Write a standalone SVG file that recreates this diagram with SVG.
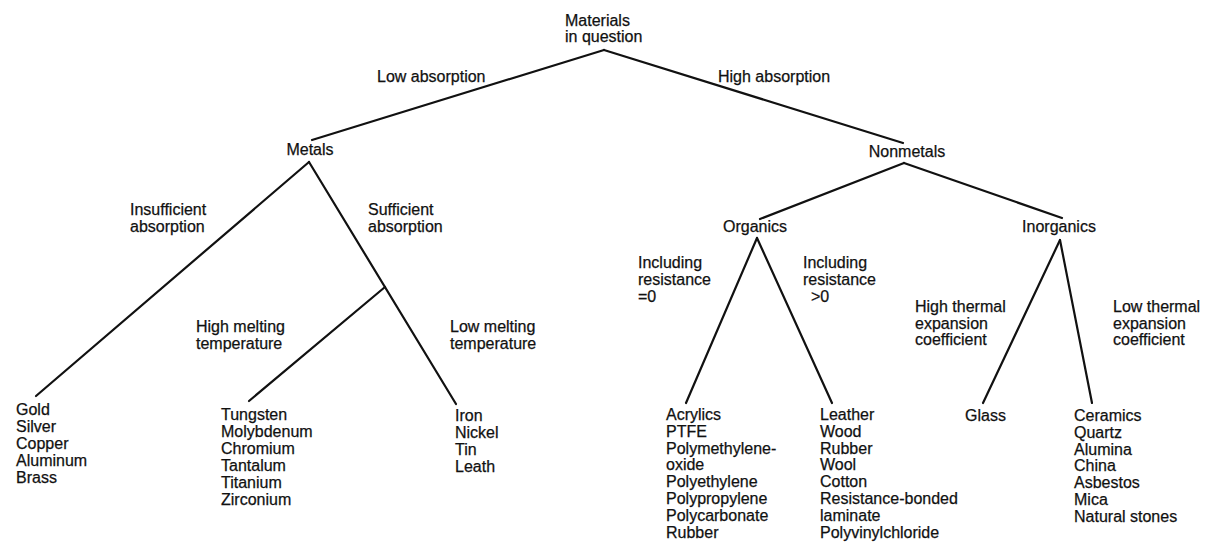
<svg xmlns="http://www.w3.org/2000/svg" width="1211" height="542" viewBox="0 0 1211 542">
<style>
text{font-family:"Liberation Sans",Arial,sans-serif;font-size:16px;fill:#111;stroke:#111;stroke-width:0.25}
.c{text-anchor:middle}
.edge line{stroke:#111;stroke-width:2.2;stroke-linecap:round}
</style>
<rect width="1211" height="542" fill="#fff"/>
<g id="connectors" class="edge">
<line x1="604" y1="50" x2="312" y2="140"/>
<line x1="604" y1="50" x2="903" y2="143"/>
<line x1="309" y1="162" x2="36" y2="396"/>
<line x1="309" y1="162" x2="456" y2="404"/>
<line x1="385" y1="287" x2="249" y2="401"/>
<line x1="904" y1="163" x2="760" y2="219"/>
<line x1="904" y1="163" x2="1062" y2="218"/>
<line x1="757" y1="238" x2="686" y2="403"/>
<line x1="757" y1="238" x2="832" y2="403"/>
<line x1="1060" y1="240" x2="983" y2="403"/>
<line x1="1060" y1="240" x2="1092" y2="403"/>
</g>
<g id="edge-labels">
<text x="377" y="82">Low absorption</text>
<text x="718" y="82">High absorption</text>
<text x="130" y="215">Insufficient<tspan x="130" dy="17">absorption</tspan></text>
<text x="368" y="215">Sufficient<tspan x="368" dy="17">absorption</tspan></text>
<text x="196" y="332">High melting<tspan x="196" dy="17">temperature</tspan></text>
<text x="450" y="332">Low melting<tspan x="450" dy="17">temperature</tspan></text>
<text x="638" y="268">Including<tspan x="638" dy="17">resistance</tspan><tspan x="638" dy="17">=0</tspan></text>
<text x="803" y="268">Including<tspan x="803" dy="17">resistance</tspan><tspan x="811" dy="17">&gt;0</tspan></text>
<text x="915" y="312">High thermal<tspan x="915" dy="16.7">expansion</tspan><tspan x="915" dy="16.7">coefficient</tspan></text>
<text x="1113" y="312">Low thermal<tspan x="1113" dy="16.7">expansion</tspan><tspan x="1113" dy="16.7">coefficient</tspan></text>
</g>
<g id="node-root"><text x="565" y="26">Materials<tspan x="565" dy="16">in question</tspan></text></g>
<g id="node-metals"><text class="c" x="310" y="155">Metals</text></g>
<g id="node-nonmetals"><text class="c" x="907" y="157">Nonmetals</text></g>
<g id="node-organics"><text class="c" x="755" y="232">Organics</text></g>
<g id="node-inorganics"><text class="c" x="1059" y="232">Inorganics</text></g>
<g id="node-gold"><text x="16" y="415">Gold<tspan x="16" dy="17">Silver</tspan><tspan x="16" dy="17">Copper</tspan><tspan x="16" dy="17">Aluminum</tspan><tspan x="16" dy="17">Brass</tspan></text></g>
<g id="node-tungsten"><text x="221" y="420">Tungsten<tspan x="221" dy="17">Molybdenum</tspan><tspan x="221" dy="17">Chromium</tspan><tspan x="221" dy="17">Tantalum</tspan><tspan x="221" dy="17">Titanium</tspan><tspan x="221" dy="17">Zirconium</tspan></text></g>
<g id="node-iron"><text x="455" y="421">Iron<tspan x="455" dy="17">Nickel</tspan><tspan x="455" dy="17">Tin</tspan><tspan x="455" dy="17">Leath</tspan></text></g>
<g id="node-acrylics"><text x="666" y="420">Acrylics<tspan x="666" dy="16.8">PTFE</tspan><tspan x="666" dy="16.8">Polymethylene-</tspan><tspan x="666" dy="16.8">oxide</tspan><tspan x="666" dy="16.8">Polyethylene</tspan><tspan x="666" dy="16.8">Polypropylene</tspan><tspan x="666" dy="16.8">Polycarbonate</tspan><tspan x="666" dy="16.8">Rubber</tspan></text></g>
<g id="node-leather"><text x="820" y="420">Leather<tspan x="820" dy="16.8">Wood</tspan><tspan x="820" dy="16.8">Rubber</tspan><tspan x="820" dy="16.8">Wool</tspan><tspan x="820" dy="16.8">Cotton</tspan><tspan x="820" dy="16.8">Resistance-bonded</tspan><tspan x="820" dy="16.8">laminate</tspan><tspan x="820" dy="16.8">Polyvinylchloride</tspan></text></g>
<g id="node-glass"><text x="965" y="421">Glass</text></g>
<g id="node-ceramics"><text x="1074" y="421">Ceramics<tspan x="1074" dy="16.8">Quartz</tspan><tspan x="1074" dy="16.8">Alumina</tspan><tspan x="1074" dy="16.8">China</tspan><tspan x="1074" dy="16.8">Asbestos</tspan><tspan x="1074" dy="16.8">Mica</tspan><tspan x="1074" dy="16.8">Natural stones</tspan></text></g>
</svg>
